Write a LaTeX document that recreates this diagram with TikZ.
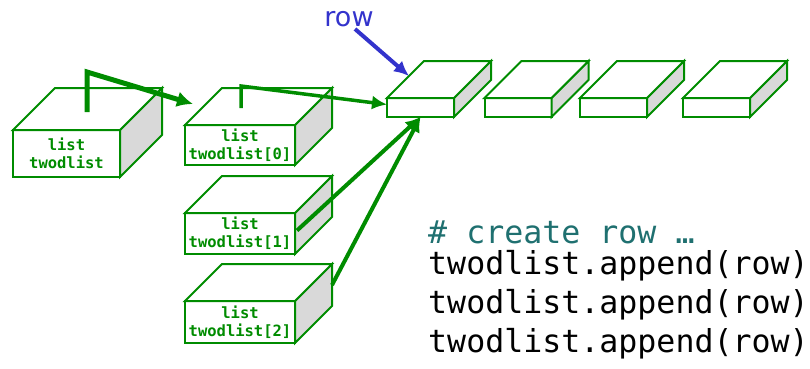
\documentclass[tikz,border=0pt]{standalone}
\usepackage{fontspec}
\usepackage{tikz}
\usetikzlibrary{calc, positioning, arrows.meta}
\newfontfamily\codefont{DejaVu Sans Mono}
\newfontfamily\labelfont{DejaVu Sans}
\definecolor{boxgreen}{RGB}{0,140,0}
\definecolor{sidegray}{RGB}{217,217,217}
\definecolor{rowblue}{RGB}{51,51,204}
\definecolor{codeteal}{RGB}{31,112,112}
\tikzset{
  boxline/.style={draw=boxgreen, line width=2pt},
  front/.style={boxline, fill=white, rectangle, inner sep=0pt, outer sep=0pt,
    align=center, text=boxgreen, font=\codefont\bfseries\fontsize{15.5}{18}\selectfont},
  ptr/.style={draw=boxgreen, line width=3.5pt, -{Latex[length=15pt,width=14pt]}},
  codeline/.style={anchor=base west, inner sep=0pt, font=\codefont\fontsize{31.6}{38}\selectfont}
}
\newcommand{\boxfaces}[2]{%
  \filldraw[boxline, fill=sidegray] (#1.north east) -- ++(#2,-#2)
    -- ($(#1.south east)+(#2,-#2)$) -- (#1.south east) -- cycle;
  \filldraw[boxline, fill=white] (#1.north west) -- ++(#2,-#2)
    -- ($(#1.north east)+(#2,-#2)$) -- (#1.north east) -- cycle;
}
\begin{document}
\begin{tikzpicture}[x=1pt, y=-1pt]
  \useasboundingbox (0,0) rectangle (810,368);
  \node[front, minimum width=107pt, minimum height=47pt] (big) at (66.5,153.5) {list\\twodlist};
  \boxfaces{big}{42}
  \node[front, minimum width=110pt, minimum height=40pt] (b0) at (240,145) {list\\twodlist[0]};
  \node[front, minimum width=110pt, minimum height=41pt] (b1) at (240,233.5) {list\\twodlist[1]};
  \node[front, minimum width=110pt, minimum height=42pt] (b2) at (240,322) {list\\twodlist[2]};
  \foreach \b in {b0,b1,b2} {\boxfaces{\b}{37}}
  \foreach \i/\x in {1/420.5, 2/518, 3/613.5, 4/716.5} {
    \node[front, minimum width=67pt, minimum height=19pt] (r\i) at (\x,107.5) {};
    \boxfaces{r\i}{37}
  }
  \node[anchor=base, inner sep=0pt, text=rowblue, font=\labelfont\fontsize{27}{32}\selectfont] (rowlbl) at (349,26) {row};
  \coordinate (bigptr) at ($(big.north)+(20.5,-18)$);
  \coordinate (b0ptr) at ($(b0.north)+(1,-17)$);
  \draw[boxgreen, line width=5pt, -{Latex[length=16pt,width=16pt]}]
    (bigptr) -- ++(0,-40) -- ($(b0.north west)+(8,-21)$);
  \draw[ptr] (b0ptr) -- ++(0,-22) -- ($(r1.west)+(0,-3)$);
  \draw[ptr, line width=4pt] ($(b1.east)+(2,-3)$) -- (r1.south);
  \draw[ptr, line width=4pt] ($(b2.east)+(37,-37)$) -- (r1.south);
  \draw[rowblue, line width=4pt, -{Latex[length=15pt,width=14pt]}]
    ($(rowlbl.base)+(6,3)$) -- ($(r1.north west)+(22,-22)$);
  \node[codeline, text=codeteal] (c0) at (428,243) {\# create row …};
  \foreach \j/\y in {1/274, 2/313, 3/352}
    \node[codeline] (c\j) at (428,\y) {twodlist.append(row)};
\end{tikzpicture}
\end{document}
